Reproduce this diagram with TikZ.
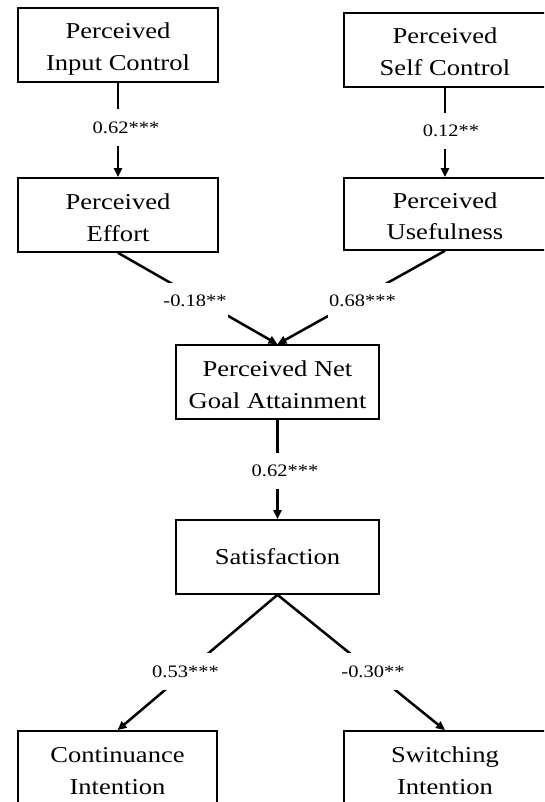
\documentclass[tikz,border=0pt]{standalone}
\usepackage{fontspec}
\setmainfont{Liberation Serif}[FakeStretch=1.17]
\usetikzlibrary{arrows.meta}
\begin{document}
\begin{tikzpicture}[x=1pt,y=-1pt,
  box/.style={draw,line width=1.6pt,inner sep=0pt,minimum width=200pt,minimum height=74pt,align=center,font=\fontsize{22.7}{32}\selectfont},
  twoline/.style={text height=52pt,text depth=0pt},
  conn/.style={line width=2.5pt},
  arr/.style={conn,-{Triangle[length=9pt,width=8pt]}},
  lbl/.style={fill=white,inner xsep=1pt,inner ysep=12.5pt,font=\fontsize{17.5}{20}\selectfont}]
\useasboundingbox (0,0) rectangle (544,802);
\clip (0,0) rectangle (544,802);
% boxes
\node[box,twoline] (ic) at (118,45) {Perceived\\Input Control};
\node[box,twoline,minimum width=202pt] (sc) at (445,50) {Perceived\\Self Control};
\node[box,twoline] (eff) at (118,215) {Perceived\\Effort};
\node[box,twoline,minimum width=202pt,minimum height=72pt] (use) at (445,214) {Perceived\\Usefulness};
\node[box,twoline,minimum width=203pt] (pnga) at (277.5,382) {Perceived Net\\Goal Attainment};
\node[box,minimum width=203pt] (sat) at (277.5,557) {Satisfaction};
\node[box,twoline,minimum width=199pt] (ci) at (117.5,768) {Continuance\\Intention};
\node[box,twoline,minimum width=202pt] (si) at (445,768) {Switching\\Intention};
% connectors
\draw[arr] (ic.south) -- (eff.north);
\draw[arr] (sc.south) -- (use.north);
\draw[arr] (eff.south) -- (pnga.north);
\draw[arr] (use.south) -- (pnga.north);
\draw[arr] (pnga.south) -- (sat.north);
\draw[arr] (sat.south) -- (ci.north);
\draw[arr] (sat.south) -- (si.north);
% labels
\node[lbl] (l1) at (126,127.5) {0.62***};
\node[lbl] (l2) at (451,131) {0.12**};
\node[lbl] (l3) at (195,301) {-0.18**};
\node[lbl] (l4) at (362.5,301) {0.68***};
\node[lbl] (l5) at (285,471) {0.62***};
\node[lbl] (l6) at (185.5,671.5) {0.53***};
\node[lbl] (l7) at (373,671.5) {-0.30**};
\end{tikzpicture}
\end{document}
